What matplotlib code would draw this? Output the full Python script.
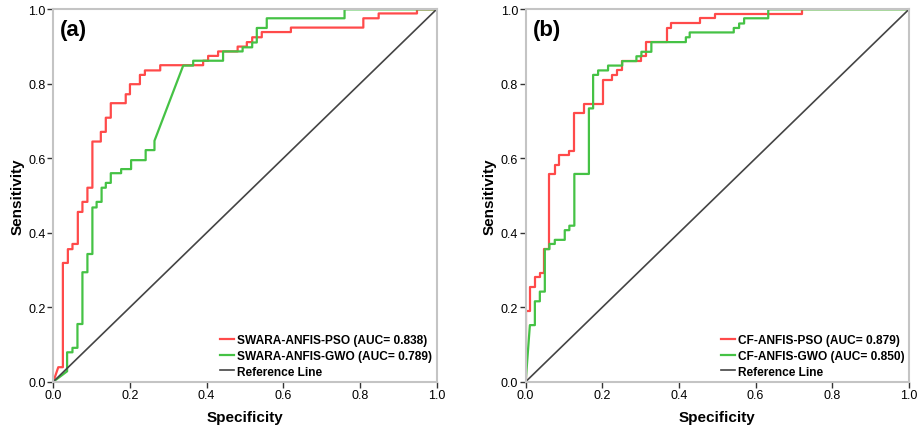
import matplotlib
matplotlib.use("Agg")
import matplotlib.pyplot as plt

plt.rcParams['font.family'] = ['Liberation Sans', 'DejaVu Sans']

# ROC points (1 - specificity, sensitivity)
# ties = indices whose segment from the previous point is drawn straight (tied scores)
a_pso_fpr = [0, 0.013, 0.025, 0.038, 0.050, 0.064, 0.076, 0.089, 0.102, 0.124, 0.137, 0.150,
             0.189, 0.200, 0.226, 0.239, 0.279, 0.391, 0.404, 0.430, 0.481, 0.505, 0.519,
             0.544, 0.620, 0.809, 0.849, 0.949, 1.0]
a_pso_tpr = [0, 0.039, 0.319, 0.356, 0.370, 0.456, 0.483, 0.521, 0.645, 0.671, 0.709, 0.748,
             0.772, 0.799, 0.824, 0.836, 0.850, 0.862, 0.875, 0.887, 0.900, 0.912, 0.925,
             0.939, 0.951, 0.976, 0.989, 1.0, 1.0]
a_pso_ties = [1]

a_gwo_fpr = [0, 0.036, 0.036, 0.050, 0.063, 0.076, 0.089, 0.102, 0.113, 0.126, 0.137, 0.150,
             0.177, 0.203, 0.241, 0.264, 0.339, 0.365, 0.443, 0.494, 0.519, 0.531, 0.557,
             0.760, 1.0]
a_gwo_tpr = [0, 0.028, 0.079, 0.091, 0.155, 0.294, 0.343, 0.468, 0.483, 0.521, 0.534, 0.560,
             0.571, 0.595, 0.622, 0.647, 0.849, 0.862, 0.887, 0.898, 0.911, 0.950, 0.976,
             1.0, 1.0]
a_gwo_ties = [1, 16]

b_pso_fpr = [0, 0.0, 0.011, 0.024, 0.037, 0.049, 0.062, 0.076, 0.088, 0.114, 0.127, 0.152,
             0.202, 0.226, 0.239, 0.252, 0.302, 0.315, 0.368, 0.379, 0.454, 0.493, 0.722, 1.0]
b_pso_tpr = [0, 0.190, 0.255, 0.280, 0.293, 0.356, 0.558, 0.583, 0.610, 0.620, 0.722, 0.746,
             0.810, 0.824, 0.836, 0.861, 0.874, 0.912, 0.949, 0.962, 0.976, 0.987, 1.0, 1.0]
b_pso_ties = [1]

b_gwo_fpr = [0, 0.011, 0.024, 0.037, 0.050, 0.062, 0.076, 0.102, 0.114, 0.127, 0.165, 0.176,
             0.189, 0.215, 0.252, 0.289, 0.302, 0.328, 0.418, 0.428, 0.543, 0.557, 0.570,
             0.633, 1.0]
b_gwo_tpr = [0, 0.152, 0.216, 0.242, 0.356, 0.370, 0.381, 0.407, 0.419, 0.558, 0.734, 0.824,
             0.836, 0.849, 0.861, 0.874, 0.886, 0.912, 0.925, 0.938, 0.950, 0.962, 0.976,
             1.0, 1.0]
b_gwo_ties = [1]

a_labels = ['SWARA-ANFIS-PSO (AUC= 0.838)', 'SWARA-ANFIS-GWO (AUC= 0.789)', 'Reference Line']
b_labels = ['CF-ANFIS-PSO (AUC= 0.879)', 'CF-ANFIS-GWO (AUC= 0.850)', 'Reference Line']
ticks = [0.0, 0.2, 0.4, 0.6, 0.8, 1.0]

RED = '#ff4a4a'
GREEN = '#45c245'
GREY = '#444444'


def roc_path(fpr, tpr, ties):
    xs, ys = [fpr[0]], [tpr[0]]
    for i in range(1, len(fpr)):
        if i not in ties:
            xs.append(fpr[i])
            ys.append(tpr[i - 1])
        xs.append(fpr[i])
        ys.append(tpr[i])
    return xs, ys


def panel(ax, tag, pso, gwo, labels):
    x, y = roc_path(*pso)
    ax.plot(x, y, color=RED, lw=1.6, label=labels[0])
    x, y = roc_path(*gwo)
    ax.plot(x, y, color=GREEN, lw=1.6, label=labels[1])
    ax.plot([0, 1], [0, 1], color=GREY, lw=1.2, label=labels[2])
    ax.set_xlim(0, 1)
    ax.set_ylim(0, 1)
    ax.set_xticks(ticks)
    ax.set_yticks(ticks)
    ax.set_xticklabels(['%.1f' % t for t in ticks])
    ax.set_yticklabels(['%.1f' % t for t in ticks])
    ax.tick_params(length=4, width=1, color='#333333', labelsize=9, pad=1.5)
    for s in ax.spines.values():
        s.set_color('#c4c4c4')
        s.set_linewidth(1.5)
    ax.set_xlabel('Specificity', fontsize=11, fontweight='bold', labelpad=6)
    ax.set_ylabel('Sensitivity', fontsize=11, fontweight='bold', labelpad=3)
    ax.text(0.018, 0.947, tag, transform=ax.transAxes, fontsize=16, fontweight='bold',
            va='center', ha='left')
    ax.legend(loc='lower right', frameon=False, handlelength=1.2, handletextpad=0.25,
              labelspacing=0.3, borderaxespad=0.05, borderpad=0.3,
              prop={'size': 8.6, 'weight': 'bold'})


fig = plt.figure(figsize=(9.19, 4.31), dpi=100)
ax1 = fig.add_axes([0.058, 0.112, 0.417, 0.864])
ax2 = fig.add_axes([0.572, 0.112, 0.417, 0.864])

panel(ax1, '(a)', (a_pso_fpr, a_pso_tpr, a_pso_ties),
      (a_gwo_fpr, a_gwo_tpr, a_gwo_ties), a_labels)
panel(ax2, '(b)', (b_pso_fpr, b_pso_tpr, b_pso_ties),
      (b_gwo_fpr, b_gwo_tpr, b_gwo_ties), b_labels)

fig.savefig('out.png', dpi=100)
